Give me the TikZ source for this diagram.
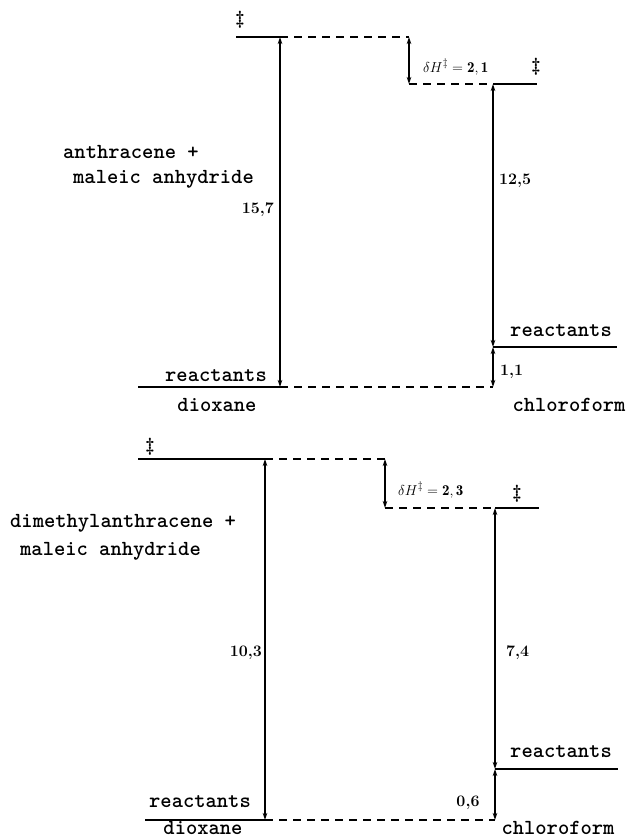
\documentclass[tikz,border=0pt]{standalone}
\usepackage{fontspec}
\usetikzlibrary{arrows.meta}
\begin{document}
\begin{tikzpicture}[x=1pt,y=-1pt,
  level/.style={line width=2.2pt},
  dlevel/.style={line width=1.8pt,dash pattern=on 8pt off 6pt},
  gap/.style={line width=1.1pt,{Stealth[length=7pt,width=4.5pt]}-{Stealth[length=7pt,width=4.5pt]}},
  lab/.style={inner sep=0pt,font=\ttfamily\bfseries\fontsize{21.5}{24}\selectfont},
  num/.style={inner sep=0pt,font=\bfseries\fontsize{16}{18}\selectfont},
  dh/.style={inner sep=0pt,font=\fontsize{15}{17}\selectfont},
  ts/.style={inner sep=0pt,font=\bfseries\fontsize{19}{21}\selectfont}]
\useasboundingbox (0,0) rectangle (636,838);
% ---------- top diagram ----------
\coordinate (a1) at (236,37);
\coordinate (a2) at (280,37);
\coordinate (a3) at (409,37);
\coordinate (b1) at (409,84);
\coordinate (b2) at (493,84);
\coordinate (b3) at (537,84);
\coordinate (c1) at (138,387);
\coordinate (c2) at (280,387);
\coordinate (c3) at (493,387);
\coordinate (d1) at (493,347);
\coordinate (d2) at (617,347);
\draw[level] (a1) -- (a2);
\draw[dlevel] (a2) -- (a3);
\draw[dlevel] (b1) -- (b2);
\draw[level] (b2) -- (b3);
\draw[level] (c1) -- (c2);
\draw[dlevel] (c2) -- (c3);
\draw[level] (d1) -- (d2);
\draw[gap] (a2) -- (c2);
\draw[gap] (a3) -- (b1);
\draw[gap] (b2) -- (d1);
\draw[gap] (d1) -- (c3);
\node[ts] (tA) at (240,20) {\ddag};
\node[ts] (tB) at (536,67) {\ddag};
\node[dh,anchor=west] (dhA) at (423,67) {$\delta H^{\ddagger} = \mathbf{2,1}$};
\node[lab,anchor=west] (rA) at (63,152) {anthracene +};
\node[lab,anchor=west] (rB) at (73,179) {maleic anhydride};
\node[num,anchor=east] (nA) at (274,210) {15,7};
\node[num,anchor=west] (nB) at (499,181) {12,5};
\node[num,anchor=west] (nC) at (500,372) {1,1};
\node[lab] (reA) at (216,376) {reactants};
\node[lab] (reB) at (561,331) {reactants};
\node[lab] (dxA) at (217,405) {dioxane};
\node[lab] (chA) at (569,405) {chloroform};
% ---------- bottom diagram ----------
\coordinate (e1) at (138,459);
\coordinate (e2) at (265,459);
\coordinate (e3) at (385,459);
\coordinate (f1) at (385,508);
\coordinate (f2) at (495,508);
\coordinate (f3) at (539,508);
\coordinate (g1) at (145,820);
\coordinate (g2) at (265,820);
\coordinate (g3) at (495,820);
\coordinate (h1) at (495,769);
\coordinate (h2) at (618,769);
\draw[level] (e1) -- (e2);
\draw[dlevel] (e2) -- (e3);
\draw[dlevel] (f1) -- (f2);
\draw[level] (f2) -- (f3);
\draw[level] (g1) -- (g2);
\draw[dlevel] (g2) -- (g3);
\draw[level] (h1) -- (h2);
\draw[gap] (e2) -- (g2);
\draw[gap] (e3) -- (f1);
\draw[gap] (f2) -- (h1);
\draw[gap] (h1) -- (g3);
\node[ts] (tC) at (150,447) {\ddag};
\node[ts] (tD) at (517,494) {\ddag};
\node[dh,anchor=west] (dhB) at (398,490) {$\delta H^{\ddagger} = \mathbf{2,3}$};
\node[lab,anchor=west] (rC) at (10,523) {dimethylanthracene +};
\node[lab,anchor=west] (rD) at (20,551) {maleic anhydride};
\node[num,anchor=east] (nD) at (262,653) {10,3};
\node[num,anchor=west] (nE) at (506,653) {7,4};
\node[num] (nF) at (468,803) {0,6};
\node[lab] (reC) at (200,802) {reactants};
\node[lab] (reD) at (561,752) {reactants};
\node[lab,anchor=base] (dxB) at (203,834) {dioxane};
\node[lab,anchor=base] (chB) at (558,834) {chloroform};
\end{tikzpicture}
\end{document}
